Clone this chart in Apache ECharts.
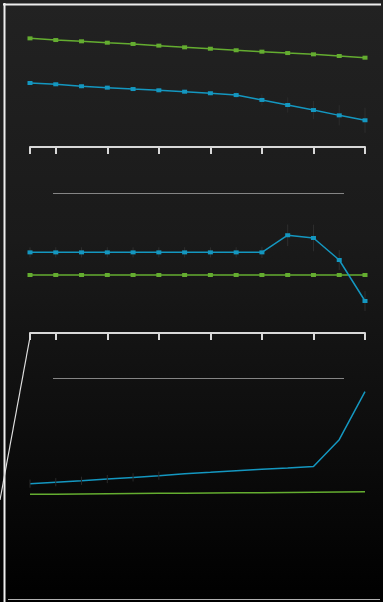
<!DOCTYPE html>
<html>
<head>
<meta charset="utf-8">
<script src="https://cdn.jsdelivr.net/npm/echarts@6/dist/echarts.min.js"></script>
<style>
  html, body { margin: 0; padding: 0; background: #000; }
  #chart { width: 383px; height: 602px; }
</style>
</head>
<body>
<div id="chart"></div>
<script>
// Shared x categories (14 steps)
const categories = ['1','2','3','4','5','6','7','8','9','10','11','12','13','14'];

// Panel 1
const topGreen = [77.6, 76.4, 75.5, 74.5, 73.6, 72.4, 71.2, 70.2, 69.1, 68.1, 67.1, 66.2, 65.0, 63.8];
const topBlue  = [45.7, 44.8, 43.4, 42.4, 41.4, 40.5, 39.5, 38.4, 37.1, 33.6, 30.0, 26.4, 22.6, 19.1];
const topBlueErr = [1.5, 1.5, 1.5, 1.5, 1.5, 1.5, 1.5, 1.5, 2.0, 4.0, 5.4, 6.5, 7.2, 9.0];

// Panel 2
const midGreen = [37.9, 37.9, 37.9, 37.9, 37.9, 37.9, 37.9, 37.9, 37.9, 37.9, 37.9, 37.9, 37.9, 37.9];
const midBlue  = [52.7, 52.7, 52.7, 52.7, 52.7, 52.7, 52.7, 52.7, 52.7, 52.7, 63.9, 62.1, 47.7, 20.9];
const midBlueErr = [3.3, 3.3, 3.3, 3.3, 3.3, 3.3, 3.3, 3.3, 3.3, 3.7, 7.0, 8.7, 6.5, 6.5];

// Panel 3
const lowGreen = [37.0, 37.0, 37.1, 37.2, 37.3, 37.4, 37.4, 37.5, 37.6, 37.6, 37.7, 37.8, 37.9, 38.0];
const lowBlue  = [41.4, 42.0, 42.6, 43.3, 44.0, 44.7, 45.5, 46.1, 46.8, 47.4, 47.9, 48.5, 59.7, 79.7];
const lowBlueErr = [1.7, 1.7, 1.7, 1.7, 1.7, 1.7, 0, 0, 0, 0, 0, 0, 0, 0];

const GREEN = '#64ad30';
const BLUE = '#1497c0';
const AXIS = '#d8d8d8';

function errData(vals, errs) {
  return vals.map((v, i) => [i, v - errs[i], v + errs[i]]).filter((d, i) => errs[i] > 0);
}

function errSeries(gridIdx, vals, errs, color) {
  return {
    type: 'custom',
    xAxisIndex: gridIdx, yAxisIndex: gridIdx,
    z: 1, silent: true,
    data: errData(vals, errs),
    renderItem: function (params, api) {
      const lo = api.coord([api.value(0), api.value(1)]);
      const hi = api.coord([api.value(0), api.value(2)]);
      return {
        type: 'line',
        shape: { x1: lo[0], y1: lo[1], x2: hi[0], y2: hi[1] },
        style: { stroke: color, lineWidth: 1 }
      };
    }
  };
}

function lineSeries(gridIdx, data, color, markers) {
  return {
    type: 'line',
    xAxisIndex: gridIdx, yAxisIndex: gridIdx,
    data: data,
    z: 3,
    showSymbol: markers,
    symbol: 'rect',
    symbolSize: [5, 4],
    itemStyle: { color: color },
    lineStyle: { color: color, width: 1.5 },
    animation: false
  };
}

function xAxis(gridIdx, visible) {
  return {
    type: 'category',
    gridIndex: gridIdx,
    data: categories,
    boundaryGap: false,
    show: visible,
    axisLine: { lineStyle: { color: AXIS, width: 2 } },
    axisTick: {
      show: true,
      length: 7,
      interval: function (index) { return index === 0 || index % 2 === 1; },
      lineStyle: { color: AXIS, width: 2 }
    },
    axisLabel: { show: false },
    splitLine: { show: false }
  };
}

function yAxis(gridIdx) {
  return { type: 'value', gridIndex: gridIdx, min: 0, max: 100, show: false };
}

const chart = echarts.init(document.getElementById('chart'), null, { renderer: 'canvas' });
chart.setOption({
  animation: false,
  backgroundColor: {
    type: 'linear', x: 0, y: 0, x2: 0, y2: 1,
    colorStops: [
      { offset: 0, color: '#222222' },
      { offset: 0.4, color: '#1a1a1a' },
      { offset: 0.7, color: '#0e0e0e' },
      { offset: 1, color: '#000000' }
    ]
  },
  grid: [
    { left: 30, right: 18, top: 7, height: 140 },
    { left: 30, right: 18, top: 180, height: 153 },
    { left: 30, right: 18, top: 343, height: 240 }
  ],
  xAxis: [xAxis(0, true), xAxis(1, true), xAxis(2, false)],
  yAxis: [yAxis(0), yAxis(1), yAxis(2)],
  series: [
    errSeries(0, topBlue, topBlueErr, '#2c2c2c'),
    lineSeries(0, topGreen, GREEN, true),
    lineSeries(0, topBlue, BLUE, true),
    errSeries(1, midBlue, midBlueErr, '#2e2e2e'),
    lineSeries(1, midGreen, GREEN, true),
    lineSeries(1, midBlue, BLUE, true),
    lineSeries(2, lowGreen, GREEN, false),
    lineSeries(2, lowBlue, BLUE, false),
    Object.assign(errSeries(2, lowBlue, lowBlueErr, '#2a2a2a'), { z: 4 })
  ],
  graphic: [
    // frame
    { type: 'line', shape: { x1: 4.5, y1: 3, x2: 4.5, y2: 602 }, style: { stroke: '#eeeeee', lineWidth: 2 } },
    { type: 'line', shape: { x1: 3, y1: 4.5, x2: 381, y2: 4.5 }, style: { stroke: '#eeeeee', lineWidth: 2 } },
    { type: 'line', shape: { x1: 8, y1: 599.5, x2: 380, y2: 599.5 }, style: { stroke: '#b0b0b0', lineWidth: 1 } },
    // section rules
    { type: 'line', shape: { x1: 53, y1: 193.5, x2: 344, y2: 193.5 }, style: { stroke: '#858585', lineWidth: 1 } },
    { type: 'line', shape: { x1: 53, y1: 378.5, x2: 344, y2: 378.5 }, style: { stroke: '#858585', lineWidth: 1 } },
    // slanted stroke from the lower axis origin
    { type: 'line', shape: { x1: 30, y1: 337, x2: 0, y2: 500 }, style: { stroke: '#e0e0e0', lineWidth: 1.2 } }
  ]
});
</script>
</body>
</html>
